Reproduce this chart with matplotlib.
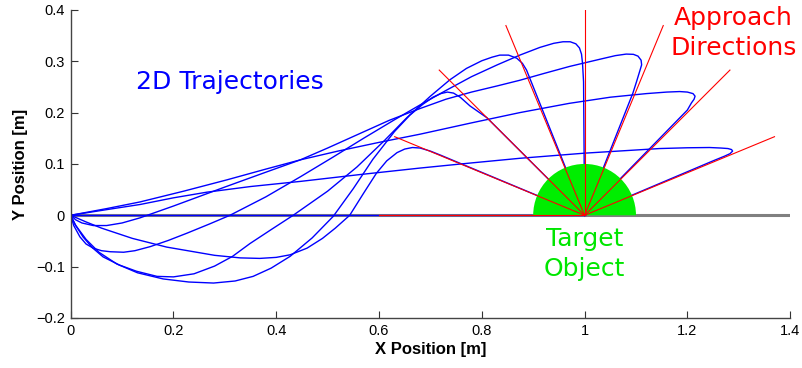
import numpy as np
import matplotlib
matplotlib.use('Agg')
import matplotlib.pyplot as plt
from matplotlib.patches import Wedge

# approach directions (degrees) and length of the red guide lines
approach_angles = [22.5, 45, 67.5, 90, 112.5, 135, 157.5, 180]
direction_length = 0.4
target_center = (1.0, 0.0)
target_radius = 0.1

# trajectories (x, y in metres), one per approach direction
traj_22 = ([0, 0.07, 0.135, 0.2, 0.265, 0.35, 0.447, 0.56, 0.68, 0.78, 0.874, 1.0, 1.146, 1.2, 1.243,
            1.265, 1.279, 1.286, 1.288, 1.283, 1.272, 1.25, 1.0],
           [0, 0.011, 0.021, 0.034, 0.045, 0.056, 0.066, 0.079, 0.092, 0.102, 0.111, 0.121, 0.130, 0.1315, 0.132,
            0.131, 0.130, 0.128, 0.125, 0.120, 0.115, 0.106, 0.0])
traj_45 = ([0, 0.07, 0.135, 0.22, 0.304, 0.38, 0.447, 0.52, 0.6, 0.68, 0.78, 0.874, 0.97, 1.05, 1.12, 1.16,
            1.185, 1.2, 1.211, 1.215, 1.213, 1.208, 1.2, 1.0],
           [0, 0.013, 0.026, 0.047, 0.069, 0.090, 0.108, 0.125, 0.142, 0.158, 0.180, 0.200, 0.218, 0.230, 0.237, 0.240,
            0.241, 0.240, 0.237, 0.232, 0.226, 0.219, 0.205, 0.0])
traj_67 = ([0, 0.01, 0.022, 0.044, 0.07, 0.1, 0.135, 0.2, 0.3, 0.38, 0.447, 0.5, 0.56, 0.62, 0.68, 0.73, 0.78,
            0.83, 0.874, 0.92, 0.971, 1.03, 1.06, 1.081, 1.095, 1.104, 1.110, 1.111, 1.108, 1.101, 1.094, 1.0],
           [0, -0.009, -0.015, -0.020, -0.020, -0.015, -0.005, 0.018, 0.055, 0.084, 0.108, 0.131, 0.158, 0.185, 0.208,
            0.226, 0.240, 0.252, 0.263, 0.276, 0.290, 0.304, 0.311, 0.314, 0.3135, 0.310, 0.302, 0.293, 0.283, 0.260,
            0.238, 0.0])
traj_90 = ([0, 0.006, 0.018, 0.03, 0.044, 0.06, 0.077, 0.103, 0.125, 0.155, 0.19, 0.226, 0.27, 0.31, 0.38,
            0.447, 0.51, 0.57, 0.63, 0.68, 0.73, 0.78, 0.83, 0.874, 0.913, 0.94, 0.958, 0.972, 0.983, 0.990,
            0.994, 0.996, 0.998, 1.0],
           [0, -0.020, -0.042, -0.056, -0.064, -0.069, -0.071, -0.072, -0.069, -0.061, -0.049, -0.035, -0.017, 0.0,
            0.036, 0.075, 0.113, 0.150, 0.186, 0.215, 0.243, 0.270, 0.293, 0.312, 0.327, 0.335, 0.338, 0.338, 0.334,
            0.326, 0.314, 0.296, 0.26, 0.0])
traj_112 = ([0, 0.008, 0.024, 0.042, 0.063, 0.095, 0.128, 0.168, 0.2, 0.24, 0.28, 0.315, 0.349, 0.39, 0.433,
             0.5, 0.557, 0.61, 0.654, 0.7, 0.738, 0.77, 0.8, 0.82, 0.835, 0.852, 0.868, 0.879, 0.887, 1.0],
            [0, -0.017, -0.042, -0.063, -0.081, -0.097, -0.109, -0.119, -0.120, -0.114, -0.099, -0.080, -0.055, -0.028,
             0.0, 0.047, 0.094, 0.145, 0.190, 0.232, 0.264, 0.286, 0.301, 0.308, 0.312, 0.312, 0.306, 0.296, 0.283, 0.0])
traj_135 = ([0, 0.01, 0.03, 0.055, 0.09, 0.13, 0.18, 0.23, 0.278, 0.32, 0.355, 0.39, 0.427, 0.47, 0.511,
             0.55, 0.588, 0.63, 0.66, 0.685, 0.705, 0.72, 0.733, 0.745, 0.758, 0.777, 0.81, 1.0],
            [0, -0.020, -0.047, -0.072, -0.095, -0.112, -0.124, -0.130, -0.132, -0.128, -0.119, -0.103, -0.080, -0.044,
             -0.002, 0.052, 0.109, 0.163, 0.195, 0.216, 0.230, 0.237, 0.240, 0.238, 0.230, 0.213, 0.19, 0.0])
traj_157 = ([0, 0.03, 0.06, 0.12, 0.187, 0.28, 0.33, 0.368, 0.40, 0.427, 0.46, 0.49, 0.515, 0.543, 0.57,
             0.595, 0.615, 0.635, 0.65, 0.665, 0.68, 0.70, 0.72, 1.0],
            [0, -0.013, -0.025, -0.045, -0.062, -0.078, -0.083, -0.084, -0.082, -0.077, -0.064, -0.045, -0.025, 0.0,
             0.043, 0.082, 0.106, 0.122, 0.129, 0.132, 0.131, 0.125, 0.117, 0.0])
traj_180 = ([0, 1.0], [0, 0.0])
trajectories = [traj_22, traj_45, traj_67, traj_90, traj_112, traj_135, traj_157, traj_180]

x_ticks = [0, 0.2, 0.4, 0.6, 0.8, 1.0, 1.2, 1.4]
x_tick_labels = ['0', '0.2', '0.4', '0.6', '0.8', '1', '1.2', '1.4']
y_ticks = [-0.2, -0.1, 0, 0.1, 0.2, 0.3, 0.4]
y_tick_labels = ['\u22120.2', '\u22120.1', '0', '0.1', '0.2', '0.3', '0.4']

plt.rcParams['font.family'] = ['Liberation Sans', 'DejaVu Sans']

fig = plt.figure(figsize=(8.03, 3.68), dpi=100)
ax = fig.add_axes([0.088, 0.136, 0.896, 0.837])

# gray baseline along y = 0
ax.plot([0, 1.4], [0, 0], color='#808080', lw=2.2, zorder=1, solid_capstyle='butt')

for tx, ty in trajectories:
    ax.plot(tx, ty, color='#0000ff', lw=1.0, zorder=2)

ax.add_patch(Wedge(target_center, target_radius, 0, 180, color='#00ee00', lw=0, zorder=3))

for ang in approach_angles:
    a = np.deg2rad(ang)
    ax.plot([target_center[0], target_center[0] + direction_length * np.cos(a)],
            [target_center[1], target_center[1] + direction_length * np.sin(a)],
            color='#ff0000', lw=0.8, zorder=4)

ax.text(0.31, 0.26, '2D Trajectories', color='#0000ff', fontsize=18,
        family='DejaVu Sans', ha='center', va='center')
ax.text(1.29, 0.355, 'Approach\nDirections', color='#ff0000', fontsize=18,
        family='DejaVu Sans', ha='center', va='center', linespacing=1.3)
ax.text(1.0, -0.075, 'Target\nObject', color='#00e600', fontsize=18,
        family='DejaVu Sans', ha='center', va='center', linespacing=1.3)

ax.set_xlim(0, 1.4)
ax.set_ylim(-0.2, 0.4)
ax.set_xticks(x_ticks)
ax.set_xticklabels(x_tick_labels)
ax.set_yticks(y_ticks)
ax.set_yticklabels(y_tick_labels)
ax.tick_params(direction='in', length=5, width=0.8, labelsize=10.5, color='#333333', pad=4)
for side in ['top', 'right']:
    ax.spines[side].set_visible(False)
for side in ['left', 'bottom']:
    ax.spines[side].set_color('#444444')
    ax.spines[side].set_linewidth(1.0)

ax.set_xlabel('X Position [m]', fontsize=12, fontweight='bold', labelpad=3)
ax.set_ylabel('Y Position [m]', fontsize=12, fontweight='bold', labelpad=6)

fig.savefig('out.png', dpi=100)
